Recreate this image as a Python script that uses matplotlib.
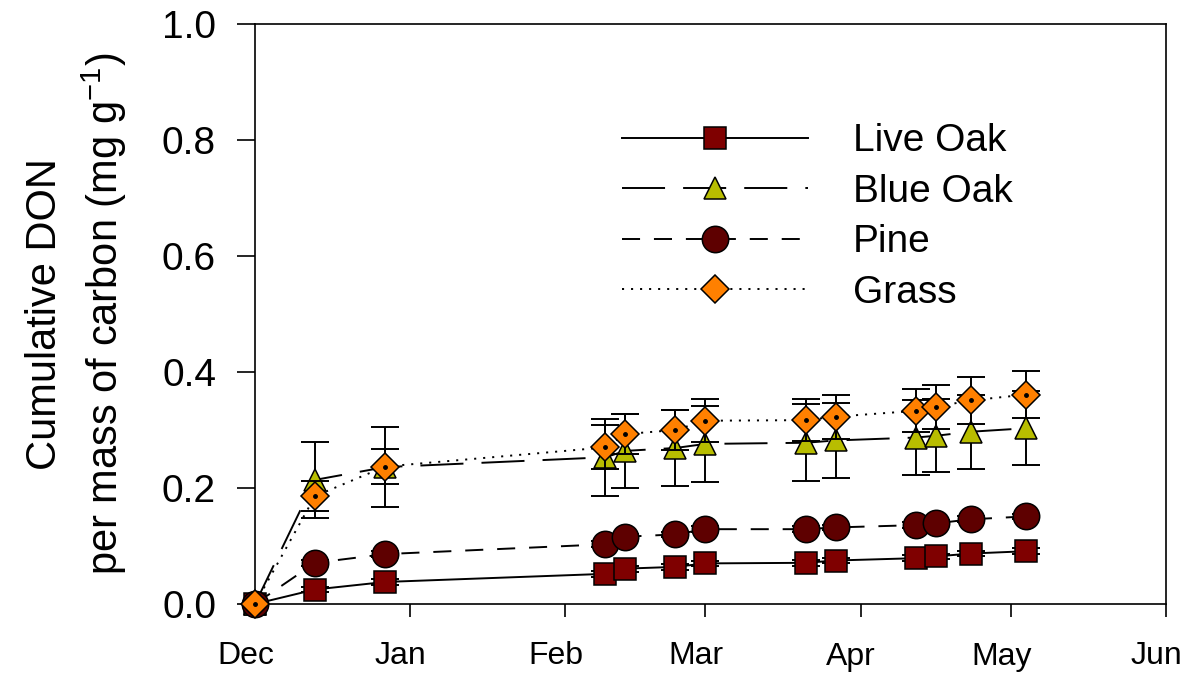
import matplotlib
matplotlib.use("Agg")
import matplotlib.pyplot as plt
from matplotlib.transforms import ScaledTranslation

plt.rcParams["font.family"] = ["Liberation Sans", "DejaVu Sans"]
plt.rcParams["mathtext.default"] = "regular"
plt.rcParams["lines.scale_dashes"] = False

# sampling dates as days after 1 Dec
days = [0, 12, 26, 70, 74, 84, 90, 110, 116, 132, 136, 143, 154]

live_oak = [0, 0.025, 0.038, 0.052, 0.061, 0.064, 0.070, 0.071, 0.075, 0.079, 0.082, 0.087, 0.091]
live_oak_se = [0, 0.005, 0.005, 0.005, 0.005, 0.005, 0.005, 0.005, 0.005, 0.005, 0.005, 0.005, 0.005]

blue_oak = [0, 0.214, 0.236, 0.253, 0.264, 0.269, 0.276, 0.278, 0.282, 0.287, 0.290, 0.297, 0.303]
blue_oak_se = [0, 0.065, 0.069, 0.066, 0.064, 0.066, 0.065, 0.066, 0.064, 0.064, 0.063, 0.064, 0.064]

pine = [0, 0.071, 0.086, 0.103, 0.116, 0.120, 0.129, 0.129, 0.132, 0.136, 0.139, 0.146, 0.151]
pine_se = [0, 0.005, 0.005, 0.005, 0.005, 0.005, 0.005, 0.005, 0.005, 0.005, 0.005, 0.005, 0.005]

grass = [0, 0.186, 0.237, 0.270, 0.293, 0.300, 0.316, 0.317, 0.323, 0.333, 0.340, 0.351, 0.361]
grass_se = [0, 0.026, 0.030, 0.038, 0.034, 0.034, 0.037, 0.036, 0.038, 0.037, 0.038, 0.041, 0.041]

month_days = [0, 31, 62, 90, 121, 151, 182]
month_labels = ["Dec", "Jan", "Feb", "Mar", "Apr", "May", "Jun"]

fig = plt.figure(figsize=(11.86, 6.76), dpi=100)
ax = fig.add_axes([255 / 1186, 1 - 604 / 676, 911 / 1186, 580 / 676])

series = [
    ("Live Oak", live_oak, live_oak_se, "s", 15.5, "#7f0000", "-"),
    ("Blue Oak", blue_oak, blue_oak_se, "^", 15.5, "#b8bd00", (0, (31, 13))),
    ("Pine", pine, pine_se, "o", 19, "#5e0000", (0, (13, 10))),
    ("Grass", grass, grass_se, "D", 14.5, "#ff8000", (0, (1.5, 5))),
]

handles = []
for i, (name, y, se, mk, ms, col, ls) in enumerate(series):
    z = 3 + i * 2
    ax.errorbar(days, y, yerr=se, fmt="none", ecolor="black", elinewidth=1.4,
                capsize=10, capthick=1.4, zorder=z)
    ln, = ax.plot(days, y, color="black", lw=1.4, ls=ls, marker=mk, ms=ms,
                  mfc=col, mec="black", mew=1.1, zorder=z + 1, label=name,
                  clip_on=False)
    handles.append(ln)
    if name == "Grass":
        ax.plot(days, y, ls="none", marker="o", ms=2.5, color="black",
                zorder=z + 1.5, clip_on=False)

ax.set_xlim(0, 182)
ax.set_ylim(0, 1.0)
ax.set_xticks(month_days)
ax.set_xticklabels(month_labels, fontsize=23)
ax.set_yticks([0, 0.2, 0.4, 0.6, 0.8, 1.0])
ax.set_yticklabels(["0.0", "0.2", "0.4", "0.6", "0.8", "1.0"], fontsize=28)
ax.tick_params(axis="x", direction="out", length=9, width=1.2, pad=18)
ax.tick_params(axis="y", direction="out", length=13, width=1.2, pad=15)
shift = ScaledTranslation(-0.095, 0, fig.dpi_scale_trans)
for lab in ax.get_xticklabels():
    lab.set_transform(lab.get_transform() + shift)
for sp in ax.spines.values():
    sp.set_linewidth(1.2)

ax.set_ylabel("Cumulative DON\nper mass of carbon (mg g$^{-1}$)", fontsize=30,
              linespacing=1.38, labelpad=24)

leg = ax.legend(handles=handles, loc="upper left", bbox_to_anchor=(0.382, 0.862),
                frameon=False, fontsize=28, handlelength=4.76, handletextpad=1.16,
                labelspacing=0.37, borderpad=0)

fig.savefig("out.png", dpi=100, facecolor="white")
